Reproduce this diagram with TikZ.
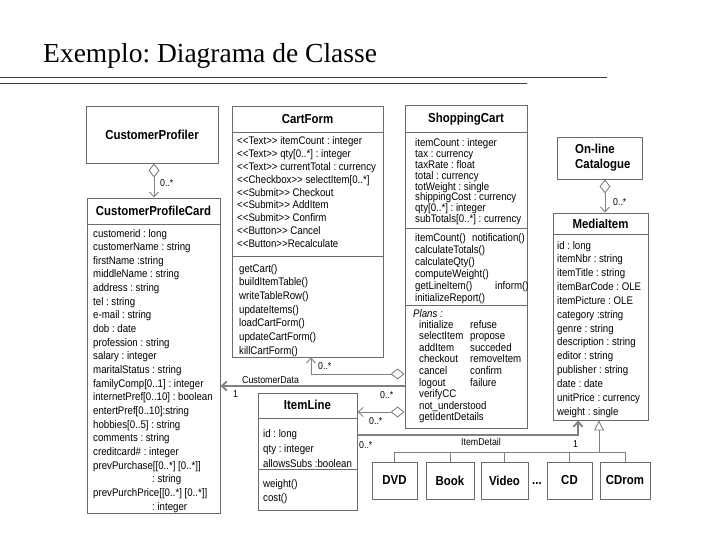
\documentclass[tikz,border=0pt]{standalone}
\usepackage{fontspec}
\setmainfont{Liberation Serif}
\newfontfamily\umlfont[FakeStretch=0.88]{Liberation Sans}
\usetikzlibrary{arrows.meta}
\definecolor{boxgray}{gray}{0.42}
\definecolor{linkgray}{gray}{0.5}
\definecolor{rulegray}{RGB}{60,60,75}
\newcommand{\stereo}[1]{<{}<#1>{}>}
\frenchspacing
\tikzset{
  heading/.style    = {anchor=base west, inner sep=0pt, font=\fontsize{27.5}{30}\selectfont},
  ruleln/.style     = {rulegray, line width=1pt},
  classbox/.style   = {draw=boxgray, line width=0.9pt, inner sep=0pt},
  sepline/.style    = {boxgray, line width=0.9pt},
  classname/.style  = {inner sep=0pt, font=\umlfont\bfseries\fontsize{13}{15}\selectfont},
  member/.style     = {anchor=base west, inner sep=0pt, font=\umlfont\fontsize{11}{13}\selectfont},
  multlab/.style    = {anchor=base west, inner sep=0pt, font=\umlfont\fontsize{10}{12}\selectfont},
  assocln/.style    = {linkgray, line width=0.9pt},
  assocheavy/.style = {linkgray, line width=1.8pt},
  navtip/.style     = {-{Straight Barb[length=5pt,width=9pt]}},
  aggrtip/.style    = {{Diamond[open,length=14pt,width=11pt]}-{Straight Barb[length=5pt,width=9pt]}},
  gentip/.style     = {-{Triangle[open,length=10pt,width=10pt]}}
}

\begin{document}
\begin{tikzpicture}[x=1pt,y=-1pt]
  \useasboundingbox (0,0) rectangle (720,540);
  % heading and rules
  \node[heading] (title) at (43,63) {Exemplo: Diagrama de Classe};
  \draw[ruleln] (0,78) -- (607,78);
  \draw[ruleln] (0,84) -- (527,84);

  % class boxes
  \node[classbox, minimum width=132, minimum height=57]  (custProfiler) at (152,134.5) {};
  \node[classbox, minimum width=133, minimum height=315] (custCard)     at (153.5,355.5) {};
  \node[classbox, minimum width=151, minimum height=251] (cartForm)     at (307.5,231.5) {};
  \node[classbox, minimum width=122, minimum height=323] (shopCart)     at (466,266.5) {};
  \node[classbox, minimum width=85,  minimum height=42]  (catalogue)    at (599.5,158) {};
  \node[classbox, minimum width=95,  minimum height=207] (mediaItem)    at (600.5,316.5) {};
  \node[classbox, minimum width=99,  minimum height=117] (itemLine)     at (307.5,451.5) {};
  \foreach \n/\x/\w/\lab in {dvd/394.5/45/DVD, book/450/48/Book, video/504.5/47/Video,
                             cd/569.5/45/CD, cdrom/625/50/CDrom}
    { \node[classbox, minimum width=\w, minimum height=37] (\n) at (\x,480.5) {};
      \node[classname] (\n Name) at (\n) {\lab}; }
  \node[classname] (dots) at (537,484) {...};

  % compartments
  \foreach \b/\y in {custCard/224, cartForm/132, cartForm/256, shopCart/132, shopCart/228,
                     shopCart/305, mediaItem/234, itemLine/418, itemLine/469}
    \draw[sepline] (\b.west |- 0,\y) -- (\b.east |- 0,\y);

  % class names
  \node[classname] (custProfilerName) at (custProfiler) {CustomerProfiler};
  \node[classname] (custCardName)     at (153.5,211) {CustomerProfileCard};
  \node[classname] (cartFormName)     at (307.5,119) {CartForm};
  \node[classname] (shopCartName)     at (466,119)   {ShoppingCart};
  \node[classname] (mediaItemName)    at (600.5,224) {MediaItem};
  \node[classname] (itemLineName)     at (307.5,405) {ItemLine};
  \node[classname, anchor=west, align=left] (catalogueName) at (575,158) {On-line\\Catalogue};

  % CustomerProfileCard attributes
  \foreach \m [count=\i from 0] in {customerid : long, customerName : string, firstName :string,
      middleName : string, address : string, tel : string, e-mail : string, dob : date,
      profession : string, salary : integer, maritalStatus : string, familyComp[0..1] : integer,
      internetPref[0..10] : boolean, entertPref[0..10]:string, hobbies[0..5] : string,
      comments : string, creditcard\# : integer, prevPurchase[[0..*] [0..*]],
      {\hspace*{59pt}: string}, prevPurchPrice[[0..*] [0..*]], {\hspace*{59pt}: integer}}
    \node[member] (cardAttr\i) at (93,{237+13.65*\i}) {\m};

  % CartForm
  \foreach \m [count=\i from 0] in {\stereo{Text} itemCount : integer, \stereo{Text} qty[0..*] : integer,
      \stereo{Text} currentTotal : currency, \stereo{Checkbox} selectItem[0..*],
      \stereo{Submit} Checkout, \stereo{Submit} AddItem, \stereo{Submit} Confirm,
      \stereo{Button} Cancel, \stereo{Button}Recalculate}
    \node[member] (formAttr\i) at (237,{145+12.8*\i}) {\m};
  \foreach \m [count=\i from 0] in {getCart(), buildItemTable(), writeTableRow(), updateItems(),
      loadCartForm(), updateCartForm(), killCartForm()}
    \node[member] (formOp\i) at (239,{272+13.67*\i}) {\m};

  % ShoppingCart
  \foreach \m [count=\i from 0] in {itemCount : integer, tax : currency, taxRate : float,
      total : currency, totWeight : single, shippingCost : currency, qty[0..*] : integer,
      subTotals[0..*] : currency}
    \node[member] (cartAttr\i) at (415,{147+10.8*\i}) {\m};
  \foreach \m [count=\i from 0] in {itemCount(), calculateTotals(), calculateQty(),
      computeWeight(), getLineItem(), initializeReport()}
    \node[member] (cartOp\i) at (415,{241+12*\i}) {\m};
  \node[member] (cartOpNotify) at (472,241) {notification()};
  \node[member] (cartOpInform) at (495,289) {inform()};
  \node[member, font=\umlfont\itshape\fontsize{11}{13}\selectfont] (plansHead) at (413,317) {Plans :};
  \foreach \m [count=\i from 0] in {initialize, selectItem, addItem, checkout, cancel, logout,
      verifyCC, not\_understood, getIdentDetails}
    \node[member] (planA\i) at (419,{328+11.6*\i}) {\m};
  \foreach \m [count=\i from 0] in {refuse, propose, succeded, removeItem, confirm, failure}
    \node[member] (planB\i) at (470,{328+11.6*\i}) {\m};

  % MediaItem
  \foreach \m [count=\i from 0] in {id : long, itemNbr : string, itemTitle : string,
      itemBarCode : OLE, itemPicture : OLE, category :string, genre : string,
      description : string, editor : string, publisher : string, date : date,
      unitPrice : currency, weight : single}
    \node[member] (mediaAttr\i) at (557,{249+13.85*\i}) {\m};

  % ItemLine
  \foreach \m/\y [count=\i from 0] in {id : long/437, qty : integer/452,
      allowsSubs :boolean/467, weight()/487, cost()/501}
    \node[member] (lineMember\i) at (263,\y) {\m};

  % aggregations
  \draw[assocln, aggrtip] (custProfiler.south -| 154,0) -- (custCard.north -| 154,0);
  \node[multlab] (multProfiler) at (160,187) {0..*};
  \draw[assocln, aggrtip] (catalogue.south -| 605,0) -- (mediaItem.north -| 605,0);
  \node[multlab] (multCatalogue) at (613,206) {0..*};
  \draw[assocln, aggrtip] (shopCart.west |- 0,374) -- (311,374) -- (cartForm.south -| 311,0);
  \node[multlab] (multForm) at (318,369) {0..*};
  \draw[assocln, aggrtip] (shopCart.west |- 0,412) -- (itemLine.east |- 0,412);
  \node[multlab] (multLine) at (369,424) {0..*};

  % associations
  \draw[assocheavy, navtip] (shopCart.west |- 0,386) -- (custCard.east |- 0,386);
  \node[multlab] (custDataLab) at (242,383) {CustomerData};
  \node[multlab] (custDataOne) at (233,397) {1};
  \node[multlab] (custDataMany) at (380,398) {0..*};
  \draw[assocheavy, navtip] (itemLine.east |- 0,435) -| (mediaItem.south -| 578,0);
  \node[multlab, anchor=base] (itemDetailLab) at (481,445) {ItemDetail};
  \node[multlab] (itemDetailMany) at (359,448) {0..*};
  \node[multlab] (itemDetailOne) at (573,447) {1};

  % generalisation
  \coordinate (treeTop) at (599,452);
  \draw[assocln, gentip] (treeTop) -- (mediaItem.south -| treeTop);
  \draw[assocln] (dvd.north |- treeTop) -- (cdrom.north |- treeTop);
  \foreach \n in {dvd, book, video, cd, cdrom}
    \draw[assocln] (\n.north |- treeTop) -- (\n.north);
\end{tikzpicture}
\end{document}
